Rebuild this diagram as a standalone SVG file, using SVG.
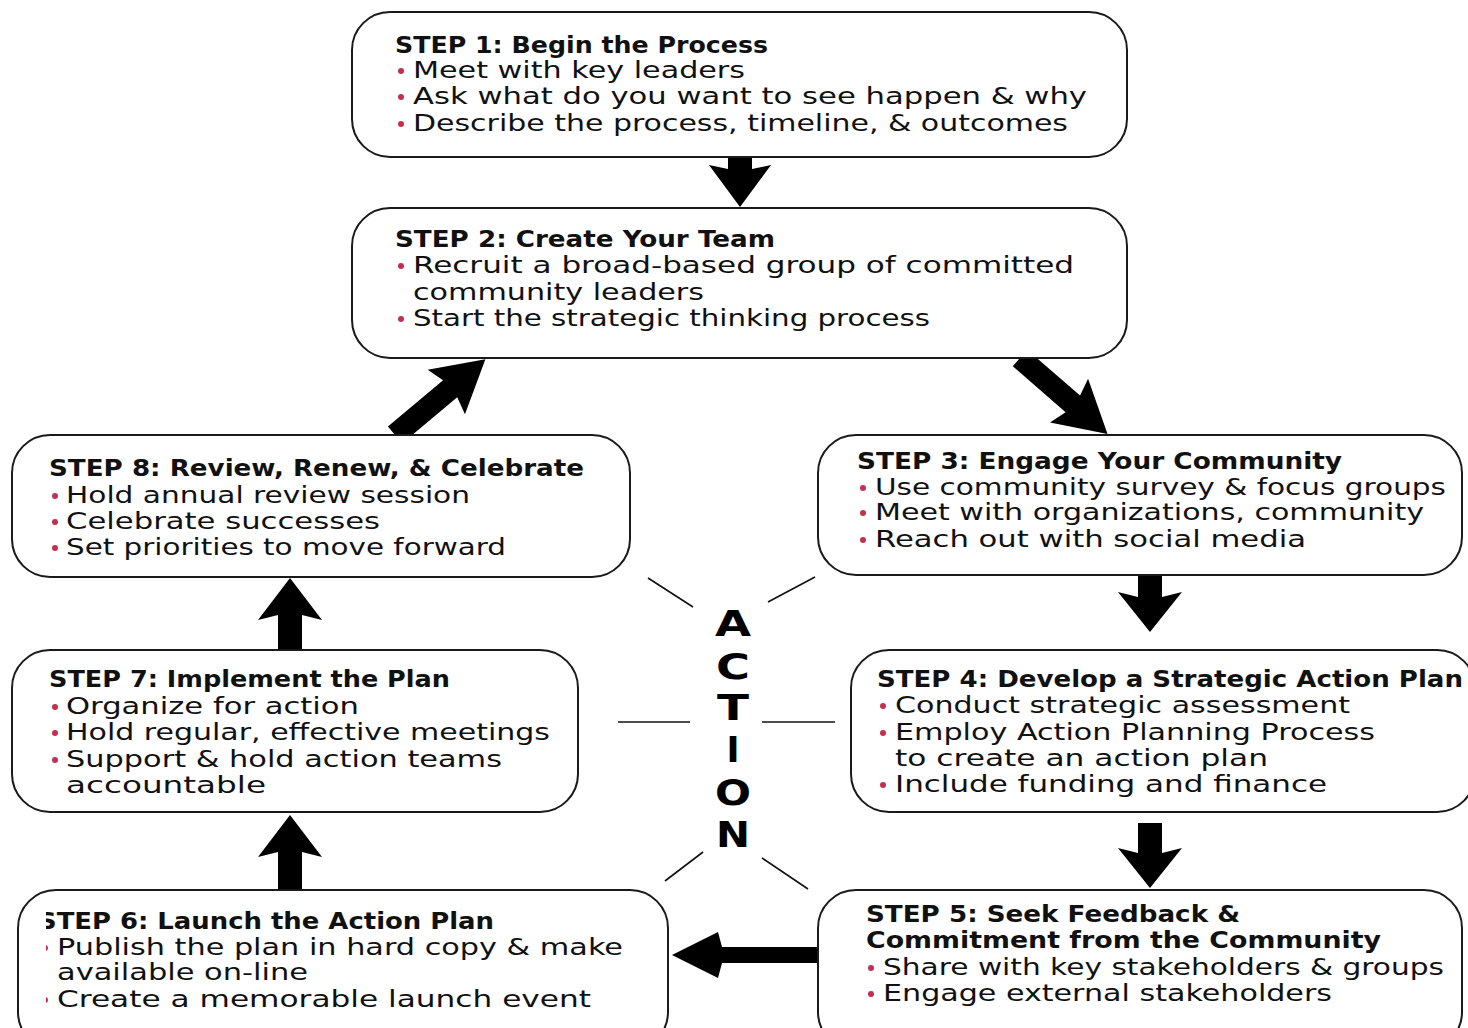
<svg xmlns="http://www.w3.org/2000/svg" width="1468" height="1028" viewBox="0 0 1468 1028">
<style>
.box{fill:#fff;stroke:#1a1a1a;stroke-width:2}
.t{font-family:"DejaVu Sans",sans-serif;font-weight:bold;font-size:23px;fill:#111}
.b{font-family:"DejaVu Sans",sans-serif;font-size:23px;fill:#111}
.dot{fill:#c2304e}
.arr{fill:#000}
.thin{stroke:#111;stroke-width:1.6;fill:none}
.act{font-family:"DejaVu Sans",sans-serif;font-weight:bold;font-size:35px;fill:#000;text-anchor:middle}
</style>
<defs>
<clipPath id="c6"><rect x="46" y="880" width="700" height="160"/></clipPath>
</defs>
<rect width="1468" height="1028" fill="#fff"/>

<g id="connectors">
<path class="arr" transform="translate(740,157) rotate(90)" d="M0,-12 H12 L8,-31 L50,0 L8,31 L12,12 H0 Z"/>
<path class="arr" transform="translate(1020,358) rotate(41)" d="M0,-11 H70 L65,-29 L116,0 L65,29 L70,11 H0 Z"/>
<path class="arr" transform="translate(395,435) rotate(-40)" d="M0,-11 H72 L67,-29 L118,0 L67,29 L72,11 H0 Z"/>
<path class="arr" transform="translate(1150,575) rotate(90)" d="M0,-12 H22 L17,-32 L57,0 L17,32 L22,12 H0 Z"/>
<path class="arr" transform="translate(1150,823) rotate(90)" d="M0,-12 H30 L25,-32 L65,0 L25,32 L30,12 H0 Z"/>
<path class="arr" transform="translate(818,955) rotate(180)" d="M0,-8 H96 L100,-23 L146,0 L100,23 L96,8 H0 Z"/>
<path class="arr" transform="translate(290,890) rotate(-90)" d="M0,-12 H38 L33,-32 L75,0 L33,32 L38,12 H0 Z"/>
<path class="arr" transform="translate(290,650) rotate(-90)" d="M0,-12 H35 L30,-32 L72,0 L30,32 L35,12 H0 Z"/>
<line class="thin" x1="648" y1="578" x2="693" y2="607"/>
<line class="thin" x1="768" y1="602" x2="815" y2="577"/>
<line class="thin" x1="618" y1="722" x2="690" y2="722"/>
<line class="thin" x1="762" y1="722" x2="835" y2="722"/>
<line class="thin" x1="665" y1="881" x2="703" y2="852"/>
<line class="thin" x1="762" y1="858" x2="808" y2="889"/>
</g>

<g id="action">
<text class="act" x="733" y="636" textLength="36" lengthAdjust="spacingAndGlyphs">A</text>
<text class="act" x="733" y="679" textLength="34" lengthAdjust="spacingAndGlyphs">C</text>
<text class="act" x="733" y="720" textLength="32" lengthAdjust="spacingAndGlyphs">T</text>
<text class="act" x="733" y="762">I</text>
<text class="act" x="733" y="805" textLength="36" lengthAdjust="spacingAndGlyphs">O</text>
<text class="act" x="733" y="847" textLength="34" lengthAdjust="spacingAndGlyphs">N</text>
</g>

<g id="step1">
<rect class="box" x="352" y="12" width="775" height="145" rx="38"/>
<text class="t" x="395" y="53" textLength="373" lengthAdjust="spacingAndGlyphs">STEP 1: Begin the Process</text>
<circle class="dot" cx="401" cy="71" r="3"/><text class="b" x="413" y="78" textLength="332" lengthAdjust="spacingAndGlyphs">Meet with key leaders</text>
<circle class="dot" cx="401" cy="97" r="3"/><text class="b" x="413" y="104" textLength="674" lengthAdjust="spacingAndGlyphs">Ask what do you want to see happen &amp; why</text>
<circle class="dot" cx="401" cy="124" r="3"/><text class="b" x="413" y="131" textLength="655" lengthAdjust="spacingAndGlyphs">Describe the process, timeline, &amp; outcomes</text>
</g>

<g id="step2">
<rect class="box" x="352" y="208" width="775" height="150" rx="38"/>
<text class="t" x="395" y="247" textLength="380" lengthAdjust="spacingAndGlyphs">STEP 2: Create Your Team</text>
<circle class="dot" cx="401" cy="266" r="3"/><text class="b" x="413" y="273" textLength="661" lengthAdjust="spacingAndGlyphs">Recruit a broad-based group of committed</text>
<text class="b" x="413" y="300" textLength="291" lengthAdjust="spacingAndGlyphs">community leaders</text>
<circle class="dot" cx="401" cy="319" r="3"/><text class="b" x="413" y="326" textLength="517" lengthAdjust="spacingAndGlyphs">Start the strategic thinking process</text>
</g>

<g id="step3">
<rect class="box" x="818" y="435" width="644" height="140" rx="38"/>
<text class="t" x="857" y="469" textLength="485" lengthAdjust="spacingAndGlyphs">STEP 3: Engage Your Community</text>
<circle class="dot" cx="863" cy="488" r="3"/><text class="b" x="875" y="495" textLength="571" lengthAdjust="spacingAndGlyphs">Use community survey &amp; focus groups</text>
<circle class="dot" cx="863" cy="513" r="3"/><text class="b" x="875" y="520" textLength="549" lengthAdjust="spacingAndGlyphs">Meet with organizations, community</text>
<circle class="dot" cx="863" cy="540" r="3"/><text class="b" x="875" y="547" textLength="431" lengthAdjust="spacingAndGlyphs">Reach out with social media</text>
</g>

<g id="step4">
<rect class="box" x="851" y="650" width="624" height="162" rx="38"/>
<text class="t" x="877" y="687" textLength="586" lengthAdjust="spacingAndGlyphs">STEP 4: Develop a Strategic Action Plan</text>
<circle class="dot" cx="883" cy="706" r="3"/><text class="b" x="895" y="713" textLength="455" lengthAdjust="spacingAndGlyphs">Conduct strategic assessment</text>
<circle class="dot" cx="883" cy="733" r="3"/><text class="b" x="895" y="740" textLength="480" lengthAdjust="spacingAndGlyphs">Employ Action Planning Process</text>
<text class="b" x="895" y="766" textLength="373" lengthAdjust="spacingAndGlyphs">to create an action plan</text>
<circle class="dot" cx="883" cy="785" r="3"/><text class="b" x="895" y="792" textLength="432" lengthAdjust="spacingAndGlyphs">Include funding and finance</text>
</g>

<g id="step5">
<rect class="box" x="818" y="890" width="644" height="160" rx="38"/>
<text class="t" x="866" y="922" textLength="374" lengthAdjust="spacingAndGlyphs">STEP 5: Seek Feedback &amp;</text>
<text class="t" x="866" y="948" textLength="515" lengthAdjust="spacingAndGlyphs">Commitment from the Community</text>
<circle class="dot" cx="871" cy="968" r="3"/><text class="b" x="883" y="975" textLength="561" lengthAdjust="spacingAndGlyphs">Share with key stakeholders &amp; groups</text>
<circle class="dot" cx="871" cy="994" r="3"/><text class="b" x="883" y="1001" textLength="449" lengthAdjust="spacingAndGlyphs">Engage external stakeholders</text>
</g>

<g id="step6">
<rect class="box" x="18" y="890" width="650" height="160" rx="38"/>
<g clip-path="url(#c6)">
<text class="t" x="38" y="929" textLength="456" lengthAdjust="spacingAndGlyphs">STEP 6: Launch the Action Plan</text>
<circle class="dot" cx="45" cy="948" r="3"/><text class="b" x="57" y="955" textLength="566" lengthAdjust="spacingAndGlyphs">Publish the plan in hard copy &amp; make</text>
<text class="b" x="57" y="980" textLength="251" lengthAdjust="spacingAndGlyphs">available on-line</text>
<circle class="dot" cx="45" cy="1000" r="3"/><text class="b" x="57" y="1007" textLength="534" lengthAdjust="spacingAndGlyphs">Create a memorable launch event</text>
</g>
</g>

<g id="step7">
<rect class="box" x="12" y="650" width="566" height="162" rx="38"/>
<text class="t" x="49" y="687" textLength="401" lengthAdjust="spacingAndGlyphs">STEP 7: Implement the Plan</text>
<circle class="dot" cx="55" cy="707" r="3"/><text class="b" x="66" y="714" textLength="293" lengthAdjust="spacingAndGlyphs">Organize for action</text>
<circle class="dot" cx="55" cy="733" r="3"/><text class="b" x="66" y="740" textLength="484" lengthAdjust="spacingAndGlyphs">Hold regular, effective meetings</text>
<circle class="dot" cx="55" cy="760" r="3"/><text class="b" x="66" y="767" textLength="436" lengthAdjust="spacingAndGlyphs">Support &amp; hold action teams</text>
<text class="b" x="66" y="793" textLength="200" lengthAdjust="spacingAndGlyphs">accountable</text>
</g>

<g id="step8">
<rect class="box" x="12" y="435" width="618" height="142" rx="38"/>
<text class="t" x="49" y="476" textLength="535" lengthAdjust="spacingAndGlyphs">STEP 8: Review, Renew, &amp; Celebrate</text>
<circle class="dot" cx="55" cy="496" r="3"/><text class="b" x="66" y="503" textLength="404" lengthAdjust="spacingAndGlyphs">Hold annual review session</text>
<circle class="dot" cx="55" cy="522" r="3"/><text class="b" x="66" y="529" textLength="314" lengthAdjust="spacingAndGlyphs">Celebrate successes</text>
<circle class="dot" cx="55" cy="548" r="3"/><text class="b" x="66" y="555" textLength="440" lengthAdjust="spacingAndGlyphs">Set priorities to move forward</text>
</g>
</svg>
